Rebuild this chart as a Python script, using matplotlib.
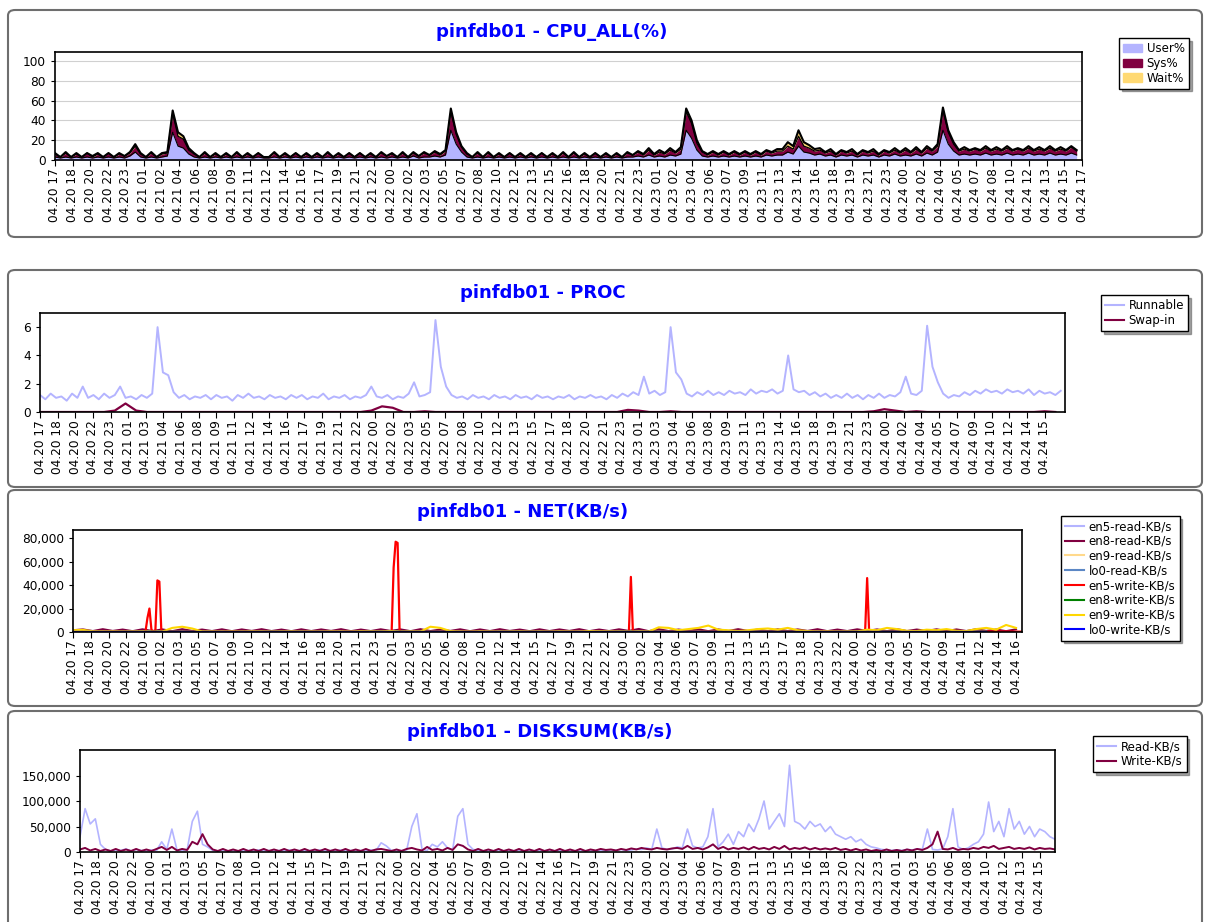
import numpy as np
import matplotlib
matplotlib.use("Agg")
import matplotlib.pyplot as plt
from matplotlib.patches import FancyBboxPatch, Patch
from matplotlib.lines import Line2D
from matplotlib.ticker import FuncFormatter

W, H = 1205, 922

# ---- x-axis labels (one every ~1.7 h) ----
cpu_labels = ("04.20 17,04.20 18,04.20 20,04.20 22,04.20 23,04.21 01,04.21 02,04.21 04,04.21 06,04.21 08,"
              "04.21 09,04.21 11,04.21 12,04.21 14,04.21 16,04.21 17,04.21 19,04.21 21,04.21 22,04.22 00,"
              "04.22 02,04.22 03,04.22 05,04.22 07,04.22 08,04.22 10,04.22 12,04.22 13,04.22 15,04.22 16,"
              "04.22 18,04.22 20,04.22 21,04.22 23,04.23 01,04.23 02,04.23 04,04.23 06,04.23 07,04.23 09,"
              "04.23 11,04.23 13,04.23 14,04.23 16,04.23 18,04.23 19,04.23 21,04.23 23,04.24 00,04.24 02,"
              "04.24 04,04.24 05,04.24 07,04.24 08,04.24 10,04.24 12,04.24 13,04.24 15,04.24 17").split(",")
proc_labels = ("04.20 17,04.20 18,04.20 20,04.20 22,04.20 23,04.21 01,04.21 03,04.21 04,04.21 06,04.21 08,"
               "04.21 09,04.21 11,04.21 12,04.21 14,04.21 16,04.21 17,04.21 19,04.21 21,04.21 22,04.22 00,"
               "04.22 02,04.22 03,04.22 05,04.22 07,04.22 08,04.22 10,04.22 12,04.22 13,04.22 15,04.22 17,"
               "04.22 18,04.22 20,04.22 21,04.22 23,04.23 01,04.23 03,04.23 04,04.23 06,04.23 08,04.23 09,"
               "04.23 11,04.23 13,04.23 14,04.23 16,04.23 18,04.23 19,04.23 21,04.23 23,04.24 00,04.24 02,"
               "04.24 04,04.24 05,04.24 07,04.24 09,04.24 10,04.24 12,04.24 14,04.24 15").split(",")
net_labels = ("04.20 17,04.20 18,04.20 20,04.20 22,04.21 00,04.21 02,04.21 03,04.21 05,04.21 07,04.21 09,"
              "04.21 10,04.21 12,04.21 14,04.21 16,04.21 18,04.21 20,04.21 21,04.21 23,04.22 01,04.22 03,"
              "04.22 05,04.22 06,04.22 08,04.22 10,04.22 12,04.22 14,04.22 15,04.22 17,04.22 19,04.22 21,"
              "04.22 22,04.23 00,04.23 02,04.23 04,04.23 06,04.23 07,04.23 09,04.23 11,04.23 13,04.23 15,"
              "04.23 17,04.23 18,04.23 20,04.23 22,04.24 00,04.24 02,04.24 03,04.24 05,04.24 07,04.24 09,"
              "04.24 11,04.24 12,04.24 14,04.24 16").split(",")
disk_labels = ("04.20 17,04.20 18,04.20 20,04.20 22,04.21 00,04.21 01,04.21 03,04.21 05,04.21 07,04.21 08,"
               "04.21 10,04.21 12,04.21 14,04.21 15,04.21 17,04.21 19,04.21 21,04.21 22,04.22 00,04.22 02,"
               "04.22 04,04.22 05,04.22 07,04.22 09,04.22 10,04.22 12,04.22 14,04.22 16,04.22 17,04.22 19,"
               "04.22 21,04.22 23,04.23 00,04.23 02,04.23 04,04.23 06,04.23 07,04.23 09,04.23 11,04.23 13,"
               "04.23 15,04.23 16,04.23 18,04.23 20,04.23 22,04.23 23,04.24 01,04.24 03,04.24 05,04.24 06,"
               "04.24 08,04.24 10,04.24 12,04.24 13,04.24 15").split(",")

# ---- CPU_ALL (%), one sample every 30 min ----
cpu_user = [3, 2, 3, 2, 3, 2, 3, 2,   3, 2, 3, 2, 3, 2, 4, 8,   3, 2, 3, 2, 3, 4, 28, 14,
            12, 6, 3, 2, 3, 2, 3, 2,  3, 2, 3, 2, 3, 2, 3, 2,   2, 3, 2, 3, 2, 3, 2, 3,
            2, 3, 2, 3, 2, 3, 2, 3,   2, 3, 2, 3, 2, 3, 2, 3,   2, 3, 2, 4, 2, 3, 3, 4,
            3, 5, 30, 16, 8, 3, 2, 3, 2, 3, 2, 3, 2, 3, 2, 3,   2, 3, 2, 3, 2, 3, 2, 3,
            2, 3, 2, 3, 2, 3, 2, 3,   2, 3, 2, 3, 3, 4, 3, 5,   3, 4, 3, 5, 4, 6, 30, 22,
            10, 4, 3, 4, 3, 4, 3, 4,  3, 4, 3, 4, 3, 5, 4, 5,   5, 8, 6, 14, 8, 7, 5, 6,
            4, 5, 3, 5, 4, 5, 3, 5,   4, 5, 3, 5, 4, 6, 4, 5,   4, 6, 4, 7, 5, 8, 30, 16,
            9, 5, 6, 5, 6, 5, 7, 5,   6, 5, 7, 5, 6, 5, 7, 5,   6, 5, 7, 5, 6, 5, 7, 5]
cpu_sys = [3, 1, 4, 1, 3, 1, 4, 1,   3, 1, 4, 1, 3, 2, 3, 6,   3, 1, 4, 1, 3, 3, 19, 10,
           9, 4, 3, 1, 4, 1, 3, 1,   3, 1, 4, 1, 3, 1, 4, 1,   1, 4, 1, 3, 1, 4, 1, 3,
           1, 3, 1, 4, 1, 3, 1, 4,   1, 4, 1, 3, 1, 4, 2, 3,   1, 4, 1, 3, 2, 4, 2, 4,
           2, 4, 19, 10, 5, 3, 1, 4, 1, 4, 1, 3, 1, 4, 1, 3,   1, 3, 1, 4, 1, 3, 1, 4,
           1, 4, 1, 3, 1, 4, 1, 3,   1, 3, 1, 4, 2, 4, 2, 5,   2, 4, 3, 5, 3, 5, 19, 15,
           7, 4, 2, 4, 2, 4, 2, 4,   2, 4, 2, 4, 2, 4, 3, 4,   4, 6, 5, 10, 6, 5, 4, 4,
           3, 4, 2, 4, 3, 4, 2, 4,   3, 4, 2, 4, 3, 4, 3, 5,   3, 5, 3, 5, 4, 6, 20, 12,
           7, 4, 5, 4, 5, 4, 5, 4,   5, 4, 5, 4, 5, 4, 5, 4,   5, 4, 5, 4, 5, 4, 6, 4]
cpu_wait = [1, 0, 1, 0, 1, 0, 0, 1,   1, 0, 0, 0, 1, 0, 1, 2,   1, 0, 1, 0, 1, 1, 3, 4,
            3, 2, 1, 0, 1, 0, 1, 0,   1, 0, 1, 0, 1, 0, 0, 0,   0, 1, 0, 1, 0, 0, 0, 1,
            0, 1, 0, 1, 0, 1, 0, 0,   0, 0, 0, 1, 0, 1, 0, 1,   0, 1, 0, 1, 0, 1, 0, 1,
            1, 1, 3, 2, 1, 1, 0, 1,   0, 1, 0, 1, 0, 0, 0, 1,   0, 1, 0, 0, 0, 1, 0, 1,
            0, 1, 0, 1, 0, 0, 0, 1,   0, 1, 0, 1, 0, 1, 1, 2,   1, 2, 1, 2, 1, 2, 3, 3,
            3, 1, 1, 1, 1, 1, 1, 1,   1, 1, 1, 1, 1, 1, 1, 2,   2, 4, 3, 6, 4, 3, 2, 2,
            1, 2, 1, 1, 1, 2, 1, 1,   1, 2, 1, 1, 1, 2, 1, 2,   1, 2, 1, 2, 1, 2, 3, 2,
            2, 1, 2, 1, 1, 1, 2, 1,   2, 1, 2, 1, 1, 1, 2, 1,   2, 1, 2, 1, 2, 1, 1, 1]

# ---- PROC, every 30 min ----
proc_runnable = [1.2, 0.9, 1.3, 1.0, 1.1, 0.8, 1.3, 1.0,  1.8, 1.0, 1.2, 0.9, 1.3, 1.0, 1.2, 1.8,
                 1.0, 1.1, 0.9, 1.2, 1.0, 1.3, 6.0, 2.8,  2.6, 1.4, 1.0, 1.2, 0.9, 1.1, 1.0, 1.2,
                 0.9, 1.2, 1.0, 1.1, 0.8, 1.2, 1.0, 1.3,  1.0, 1.1, 0.9, 1.2, 1.0, 1.1, 0.9, 1.2,
                 1.0, 1.2, 0.9, 1.1, 1.0, 1.3, 0.9, 1.1,  1.0, 1.2, 0.9, 1.1, 1.0, 1.2, 1.8, 1.1,
                 1.0, 1.2, 0.9, 1.1, 1.0, 1.3, 2.1, 1.1,  1.2, 1.4, 6.5, 3.2, 1.8, 1.2, 1.0, 1.1,
                 0.9, 1.2, 1.0, 1.1, 0.9, 1.2, 1.0, 1.1,  0.9, 1.2, 1.0, 1.1, 0.9, 1.2, 1.0, 1.1,
                 0.9, 1.1, 1.0, 1.2, 0.9, 1.1, 1.0, 1.2,  1.0, 1.1, 0.9, 1.2, 1.0, 1.3, 1.1, 1.4,
                 1.2, 2.5, 1.3, 1.5, 1.2, 1.4, 6.0, 2.8,  2.3, 1.3, 1.1, 1.4, 1.2, 1.5, 1.2, 1.4,
                 1.2, 1.5, 1.3, 1.4, 1.2, 1.6, 1.3, 1.5,  1.4, 1.6, 1.3, 1.5, 4.0, 1.6, 1.4, 1.5,
                 1.2, 1.4, 1.1, 1.3, 1.0, 1.2, 1.0, 1.3,  1.0, 1.2, 0.9, 1.2, 1.0, 1.3, 1.0, 1.2,
                 1.1, 1.4, 2.5, 1.3, 1.2, 1.5, 6.1, 3.2,  2.1, 1.3, 1.0, 1.2, 1.1, 1.4, 1.2, 1.5,
                 1.3, 1.6, 1.4, 1.5, 1.3, 1.6, 1.4, 1.5,  1.3, 1.6, 1.2, 1.5, 1.3, 1.4, 1.2, 1.5]
# every hour
proc_swapin = [0, 0, 0, 0, 0, 0, 0, 0.1, 0.6, 0.1, 0, 0, 0, 0, 0, 0,
               0, 0, 0, 0, 0, 0, 0, 0, 0, 0, 0, 0, 0, 0, 0, 0.1,
               0.4, 0.3, 0, 0, 0.05, 0, 0, 0, 0, 0, 0, 0, 0, 0, 0, 0,
               0, 0, 0, 0, 0, 0, 0, 0.15, 0.1, 0, 0, 0.05, 0, 0, 0, 0,
               0, 0, 0, 0, 0, 0, 0, 0, 0, 0, 0, 0, 0, 0, 0.05, 0.2,
               0.1, 0, 0.05, 0, 0, 0, 0, 0, 0, 0, 0, 0, 0, 0, 0.05, 0]

# ---- NET (KB/s) ----
# en5-write: (hour, value) samples around the bursts
en5_write_h = [0, 7.3, 7.5, 7.7, 7.9, 8.1, 8.3, 8.5, 8.7, 8.9, 9.1, 32.1, 32.3, 32.5, 32.7, 32.9, 33.1,
               55.8, 56.0, 56.2, 56.4, 56.6, 79.6, 79.8, 80.0, 80.2, 80.4, 95.6]
en5_write_v = [300, 300, 12000, 20000, 2000, 300, 1500, 44000, 43000, 500, 300, 300, 55000, 77000, 76000,
               600, 300, 300, 300, 47000, 500, 300, 300, 1000, 46000, 600, 300, 300]
# hourly
en8_read = [1500, 2200, 800, 2400, 900, 2100, 700, 2300, 800, 2200, 700, 2400, 900, 2100, 800, 2300,
            700, 2200, 900, 2400, 800, 2100, 700, 2300, 800, 2200, 900, 2400, 700, 2100, 800, 2300,
            900, 2200, 700, 2400, 800, 2100, 900, 2300, 700, 2200, 800, 2400, 900, 2100, 700, 2300,
            800, 2200, 900, 2400, 700, 2100, 800, 2300, 900, 2600, 700, 2400, 800, 2100, 900, 2300,
            700, 2200, 800, 2400, 900, 2100, 700, 2300, 800, 2200, 900, 2400, 700, 2100, 800, 2300,
            900, 2200, 700, 2400, 800, 2100, 900, 2300, 700, 2200, 800, 2400, 900, 2100, 700, 2300]
en9_write = [1500, 1800, 600, 400, 500, 300, 400, 500, 300, 400, 3500, 4500, 3000, 500, 400, 300,
             400, 300, 500, 400, 300, 400, 500, 300, 400, 300, 500, 400, 300, 600, 500, 400,
             800, 300, 500, 400, 4500, 3500, 800, 400, 300, 500, 400, 300, 400, 500, 300, 400,
             300, 500, 400, 300, 800, 600, 500, 400, 300, 500, 400, 4000, 3500, 1500, 2500, 3500,
             5500, 2000, 1500, 800, 1500, 2500, 3000, 2000, 3500, 1500, 800, 400, 500, 300, 400, 500,
             2000, 1500, 3500, 2500, 1000, 800, 2000, 1500, 2500, 1000, 800, 2500, 3500, 2000, 6000, 3500]
en5_read = [200, 150, 300, 200, 150, 250, 200, 150, 300, 200, 150, 250, 200, 150, 300, 200,
            150, 250, 200, 150, 300, 200, 150, 250]
en9_read = [300, 250, 400, 300, 250, 350, 300, 250, 400, 300, 250, 350, 300, 250, 400, 300,
            250, 350, 300, 250, 400, 300, 250, 350]
lo0_read = [100, 80, 120, 100, 80, 110, 100, 80, 120, 100, 80, 110, 100, 80, 120, 100,
            80, 110, 100, 80, 120, 100, 80, 110]
en8_write = [200, 150, 300, 200, 150, 250, 200, 150, 300, 200, 150, 250, 200, 150, 300, 200,
             150, 250, 200, 150, 300, 200, 150, 250]
lo0_write = [100, 80, 120, 100, 80, 110, 100, 80, 120, 100, 80, 110, 100, 80, 120, 100,
             80, 110, 100, 80, 120, 100, 80, 110]

# ---- DISKSUM (KB/s), every 30 min ----
disk_read = [30000, 85000, 55000, 65000, 15000, 5000, 2000, 4000,  3000, 6000, 2000, 5000, 3000, 2000, 4000, 3000,
             20000, 5000, 45000, 4000, 3000, 5000, 60000, 80000,  15000, 10000, 3000, 2000, 4000, 2000, 3000, 2000,
             2000, 3000, 2000, 4000, 2000, 3000, 2000, 3000,  2000, 4000, 2000, 3000, 2000, 3000, 2000, 4000,
             2000, 3000, 2000, 4000, 2000, 3000, 2000, 3000,  2000, 4000, 3000, 18000, 12000, 3000, 2000, 3000,
             4000, 50000, 75000, 5000, 3000, 15000, 10000, 20000,  8000, 4000, 70000, 85000, 15000, 5000, 3000, 2000,
             3000, 2000, 4000, 2000, 3000, 2000, 3000, 2000,  4000, 2000, 3000, 2000, 4000, 2000, 3000, 2000,
             3000, 2000, 4000, 2000, 3000, 2000, 3000, 2000,  4000, 3000, 5000, 3000, 4000, 6000, 5000, 8000,
             5000, 45000, 8000, 5000, 6000, 10000, 8000, 45000,  12000, 8000, 10000, 30000, 85000, 10000, 20000, 35000,
             15000, 40000, 30000, 55000, 40000, 65000, 100000, 45000,  60000, 75000, 50000, 170000, 60000, 55000, 45000, 60000,
             50000, 55000, 40000, 50000, 35000, 30000, 25000, 30000,  20000, 25000, 15000, 10000, 8000, 5000, 4000, 3000,
             4000, 3000, 5000, 4000, 6000, 5000, 45000, 5000,  4000, 6000, 30000, 85000, 10000, 5000, 8000, 15000,
             20000, 35000, 98000, 40000, 60000, 30000, 85000, 45000,  60000, 35000, 50000, 30000, 45000, 40000, 30000, 25000]
disk_write = [5000, 8000, 3000, 6000, 2000, 5000, 2000, 6000,  2000, 5000, 2000, 6000, 2000, 5000, 2000, 6000,
              10000, 4000, 10000, 3000, 6000, 4000, 20000, 15000,  35000, 15000, 5000, 2000, 6000, 2000, 5000, 2000,
              6000, 2000, 5000, 2000, 6000, 2000, 5000, 2000,  6000, 2000, 5000, 2000, 6000, 2000, 5000, 2000,
              6000, 2000, 5000, 2000, 6000, 2000, 5000, 2000,  6000, 2000, 5000, 6000, 4000, 2000, 5000, 2000,
              6000, 8000, 5000, 3000, 10000, 4000, 6000, 3000,  8000, 4000, 15000, 12000, 5000, 2000, 6000, 2000,
              5000, 2000, 6000, 2000, 5000, 2000, 6000, 2000,  5000, 2000, 6000, 2000, 5000, 2000, 6000, 2000,
              5000, 2000, 6000, 2000, 5000, 3000, 6000, 4000,  5000, 3000, 6000, 4000, 7000, 5000, 8000, 6000,
              5000, 8000, 6000, 5000, 7000, 8000, 6000, 12000,  6000, 8000, 5000, 9000, 15000, 6000, 10000, 5000,
              8000, 6000, 9000, 5000, 10000, 6000, 8000, 5000,  10000, 6000, 12000, 5000, 8000, 6000, 9000, 5000,
              8000, 5000, 7000, 5000, 8000, 4000, 6000, 3000,  6000, 3000, 5000, 2000, 4000, 2000, 5000, 2000,
              4000, 2000, 5000, 3000, 6000, 4000, 8000, 15000,  40000, 6000, 5000, 8000, 4000, 6000, 5000, 8000,
              6000, 10000, 8000, 12000, 6000, 8000, 10000, 6000,  8000, 6000, 9000, 5000, 8000, 6000, 7000, 5000]

LAV = "#b4b4ff"
MAROON = "#800040"
WAIT = "#ffd973"
TITLE_BLUE = "#0000ff"

plt.rcParams["font.family"] = "DejaVu Sans"

fig = plt.figure(figsize=(W / 100, H / 100), dpi=100)
fig.patch.set_facecolor("white")


def frame(top, bottom):
    # rounded grey panel border
    box = FancyBboxPatch((8 / W, 1 - bottom / H), 1194 / W, (bottom - top) / H,
                         boxstyle="round,pad=0,rounding_size=0.006", transform=fig.transFigure,
                         facecolor="white", edgecolor="#6e6e6e", linewidth=1.5, zorder=-5)
    fig.patches.append(box)


def axes_px(left, top, right, bottom):
    return fig.add_axes([left / W, 1 - bottom / H, (right - left) / W, (bottom - top) / H])


def style(ax, labels, last_h, xmax, ymax, yticks):
    ax.set_xlim(0, xmax)
    ax.set_ylim(0, ymax)
    ax.set_xticks(np.linspace(0, last_h, len(labels)))
    ax.set_xticklabels(labels, rotation=90, fontsize=8.7)
    ax.set_yticks(yticks)
    ax.tick_params(axis="y", labelsize=8.7, length=3)
    ax.tick_params(axis="x", length=4, pad=2)
    for s in ax.spines.values():
        s.set_color("black")
        s.set_linewidth(1.2)


def title(x, y, text):
    fig.text(x / W, 1 - y / H, text, color=TITLE_BLUE, fontsize=13, fontweight="bold",
             ha="center", va="center")


def legend(handles, names, x, y):
    leg = fig.legend(handles, names, loc="upper left", bbox_to_anchor=(x / W, 1 - y / H),
                     fontsize=8.5, frameon=True, fancybox=False, shadow=True,
                     handlelength=1.6, handletextpad=0.4, borderpad=0.35, labelspacing=0.15)
    leg.get_frame().set_edgecolor("black")
    leg.get_frame().set_linewidth(1.0)


# ---------- CPU ----------
frame(10, 237)
title(552, 32, "pinfdb01 - CPU_ALL(%)")
ax = axes_px(55, 52, 1082, 160)
x = np.arange(len(cpu_user)) * 0.5
u = np.array(cpu_user, float)
us = u + np.array(cpu_sys, float)
tot = us + np.array(cpu_wait, float)
ax.fill_between(x, 0, u, color=LAV, lw=0)
ax.fill_between(x, u, us, color=MAROON, lw=0)
ax.fill_between(x, us, tot, color=WAIT, lw=0)
ax.plot(x, u, color="black", lw=0.8)
ax.plot(x, us, color="black", lw=0.9)
ax.plot(x, tot, color="black", lw=1.5)
style(ax, cpu_labels, 96, 96, 109, [0, 20, 40, 60, 80, 100])
ax.yaxis.grid(True, color="#d0d0d0", lw=0.8)
ax.set_axisbelow(True)
legend([Patch(color=LAV), Patch(color=MAROON), Patch(color=WAIT)],
       ["User%", "Sys%", "Wait%"], 1113, 32)

# ---------- PROC ----------
frame(270, 487)
title(543, 293, "pinfdb01 - PROC")
ax = axes_px(40, 313, 1065, 412)
ax.plot(np.arange(len(proc_runnable)) * 0.5, proc_runnable, color=LAV, lw=1.4)
ax.plot(np.arange(len(proc_swapin)) * 1.0, proc_swapin, color=MAROON, lw=1.6)
style(ax, proc_labels, 94, 95.9, 7, [0, 2, 4, 6])
legend([Line2D([], [], color=LAV, lw=1.5), Line2D([], [], color=MAROON, lw=1.5)],
       ["Runnable", "Swap-in"], 1095, 289)

# ---------- NET ----------
frame(490, 706)
title(523, 512, "pinfdb01 - NET(KB/s)")
ax = axes_px(73, 530, 1022, 632)
net_series = [
    ("en5-read-KB/s", en5_read, 4.0, LAV),
    ("en8-read-KB/s", en8_read, 1.0, MAROON),
    ("en9-read-KB/s", en9_read, 4.0, "#ffd98c"),
    ("lo0-read-KB/s", lo0_read, 4.0, "#5b87c5"),
    ("en5-write-KB/s", None, None, "#ff0000"),
    ("en8-write-KB/s", en8_write, 4.0, "#008000"),
    ("en9-write-KB/s", en9_write, 1.0, "#ffd700"),
    ("lo0-write-KB/s", lo0_write, 4.0, "#0000ff"),
]
handles = []
for name, vals, step, col in net_series:
    if vals is None:
        ax.plot(en5_write_h, en5_write_v, color=col, lw=1.6)
    else:
        ax.plot(np.arange(len(vals)) * step, vals, color=col, lw=1.5)
    handles.append(Line2D([], [], color=col, lw=1.5))
style(ax, net_labels, 95, 95.6, 87000, [0, 20000, 40000, 60000, 80000])
ax.yaxis.set_major_formatter(FuncFormatter(lambda v, _: f"{v:,.0f}"))
legend(handles, [s[0] for s in net_series], 1055, 510)

# ---------- DISKSUM ----------
frame(711, 940)
title(540, 732, "pinfdb01 - DISKSUM(KB/s)")
ax = axes_px(80, 750, 1055, 852)
ax.plot(np.arange(len(disk_read)) * 0.5, disk_read, color=LAV, lw=1.2)
ax.plot(np.arange(len(disk_write)) * 0.5, disk_write, color=MAROON, lw=1.4)
style(ax, disk_labels, 94, 95.5, 200000, [0, 50000, 100000, 150000])
ax.yaxis.set_major_formatter(FuncFormatter(lambda v, _: f"{v:,.0f}"))
legend([Line2D([], [], color=LAV, lw=1.5), Line2D([], [], color=MAROON, lw=1.5)],
       ["Read-KB/s", "Write-KB/s"], 1087, 730)

fig.savefig("out.png", dpi=100)
